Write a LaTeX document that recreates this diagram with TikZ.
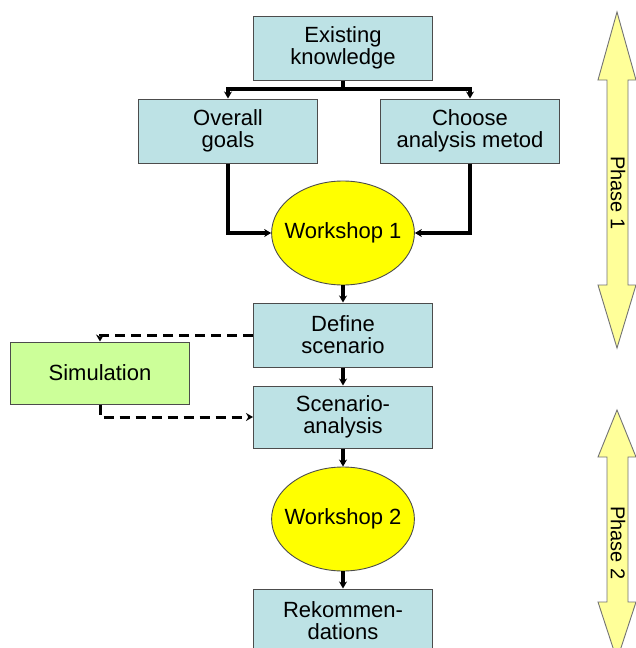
\documentclass[tikz,border=0pt]{standalone}
\usepackage{fontspec}
\setmainfont{Liberation Sans}
\usetikzlibrary{arrows.meta,shapes.geometric}
\definecolor{boxblue}{HTML}{BDE2E5}
\definecolor{simgreen}{HTML}{CCFF99}
\definecolor{wsyellow}{HTML}{FFFF00}
\definecolor{phaseyellow}{HTML}{FFFF99}
\begin{document}
\begin{tikzpicture}[x=1pt,y=-1pt,
  txt/.style={font=\fontsize{22}{22}\selectfont},
  box/.style={txt, draw=black!70, line width=1pt, fill=boxblue, minimum width=179pt, minimum height=64pt, inner sep=0pt, align=center},
  simbox/.style={box, fill=simgreen},
  ws/.style={txt, ellipse, draw=black!70, line width=0.9pt, fill=wsyellow, minimum width=141pt, minimum height=104pt, inner xsep=-8pt, inner ysep=0pt},
  flow/.style={line width=3.2pt, -{Stealth[length=7pt,width=8pt]}},
  dflow/.style={line width=3pt, dash pattern=on 10pt off 6pt, -{Stealth[length=7pt,width=8pt]}},
  phase/.style={draw=black!55, line width=0.9pt, fill=phaseyellow},
  phasetxt/.style={font=\fontsize{20}{20}\selectfont, rotate=-90}]
\useasboundingbox (0,0) rectangle (635,648);
\fill[white] (0,0) rectangle (635,648);

\node[box] (ek) at (343,48) {Existing\\knowledge};
\node[box] (og) at (228,131) {Overall\\goals};
\node[box] (cam) at (470,131) {Choose\\analysis metod};
\node[ws] (w1) at (343,233) {Workshop 1};
\node[box] (ds) at (343,335) {Define\\scenario};
\node[box, minimum height=62pt] (sa) at (343,417) {Scenario-\\analysis};
\node[simbox, minimum height=62pt] (sim) at (100,373) {Simulation};
\node[ws] (w2) at (343,519) {Workshop 2};
\node[box] (rec) at (343,621) {Rekommen-\\dations};

\coordinate (split) at (343,89);
\draw[line width=3.2pt] (ek.south) -- (split);
\draw[flow] (split) -| (og.north);
\draw[flow] (split) -| (cam.north);
\draw[flow] (og.south) |- (w1.west);
\draw[flow] (cam.south) |- (w1.east);
\draw[flow] (w1.south) -- (ds.north);
\draw[flow] (ds.south) -- (sa.north);
\draw[flow] (sa.south) -- (w2.north);
\draw[flow] (w2.south) -- (rec.north);
\draw[dflow] (ds.west) -| (sim.north);
\draw[dflow] (sim.south) |- (sa.west);

\draw[phase] (617,12) -- (636,80) -- (628,80) -- (628,285) -- (636,285) -- (617,348)
  -- (598,285) -- (607,285) -- (607,80) -- (598,80) -- cycle;
\node[phasetxt] (p1) at (618,193) {Phase 1};
\draw[phase] (617,410) -- (636,457) -- (628,457) -- (628,602) -- (636,602) -- (617,660)
  -- (598,602) -- (607,602) -- (607,457) -- (598,457) -- cycle;
\node[phasetxt] (p2) at (618,543) {Phase 2};
\end{tikzpicture}
\end{document}
